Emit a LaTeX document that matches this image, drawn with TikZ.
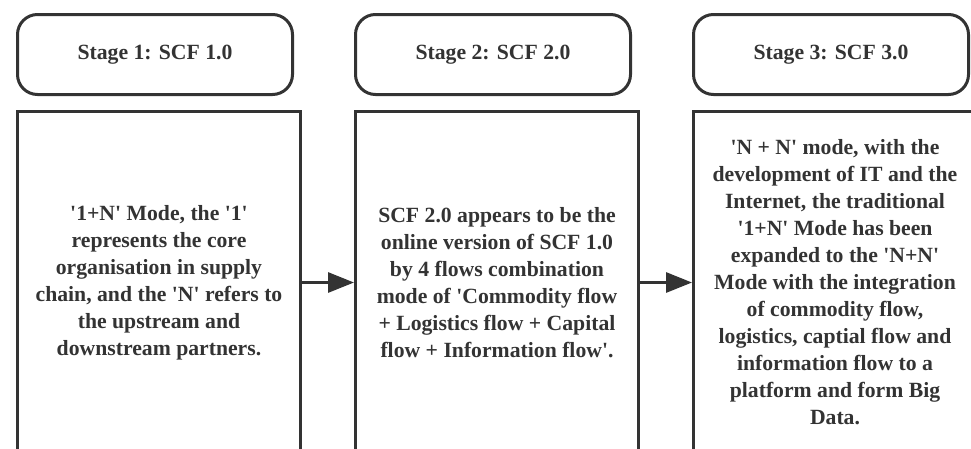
\documentclass[tikz,border=0pt]{standalone}
\usepackage{fontspec}
\setmainfont{Liberation Serif}
\usetikzlibrary{arrows.meta}
\definecolor{ink}{HTML}{333333}
% straight apostrophe
\newcommand\sq{\textquotesingle}
\begin{document}
\begin{tikzpicture}[x=1pt,y=-1pt,
  every node/.style={text=ink, font=\rmfamily\bfseries\fontsize{21.7}{27}\selectfont},
  stagebox/.style={draw=ink, line width=3pt, rounded corners=20pt,
    minimum width=275pt, minimum height=80pt, anchor=north west},
  bodybox/.style={draw=ink, line width=3pt, minimum width=283pt,
    minimum height=342pt, align=center, inner sep=0pt, anchor=north west},
  flow/.style={draw=ink, line width=3pt, -{Triangle[length=26pt,width=20pt]}}]
\clip (0,0) rectangle (971,448);

% stage headers
\node[stagebox] (s1) at (16,13)  {Stage 1: SCF 1.0};
\node[stagebox] (s2) at (354,13) {Stage 2: SCF 2.0};
\node[stagebox] (s3) at (692,13) {Stage 3: SCF 3.0};

% stage descriptions (run past the lower edge)
\node[bodybox] (b1) at (16,110) {\sq1+N\sq{} Mode, the \sq1\sq\\ represents the core\\ organisation in supply\\ chain, and the \sq N\sq{} refers to\\ the upstream and\\ downstream partners.};
\node[bodybox] (b2) at (354,110) {SCF 2.0 appears to be the\\ online version of SCF 1.0\\ by 4 flows combination\\ mode of \sq Commodity flow\\ {+} Logistics flow + Capital\\ flow + Information flow\sq.};
\node[bodybox] (b3) at (692,110) {\sq N + N\sq{} mode, with the\\ development of IT and the\\ Internet, the traditional\\ \sq1+N\sq{} Mode has been\\ expanded to the \sq N+N\sq\\ Mode with the integration\\ of commodity flow,\\ logistics, captial flow and\\ information flow to a\\ platform and form Big\\ Data.};

% progression arrows
\draw[flow] (b1) -- (b2);
\draw[flow] (b2) -- (b3);
\end{tikzpicture}
\end{document}
